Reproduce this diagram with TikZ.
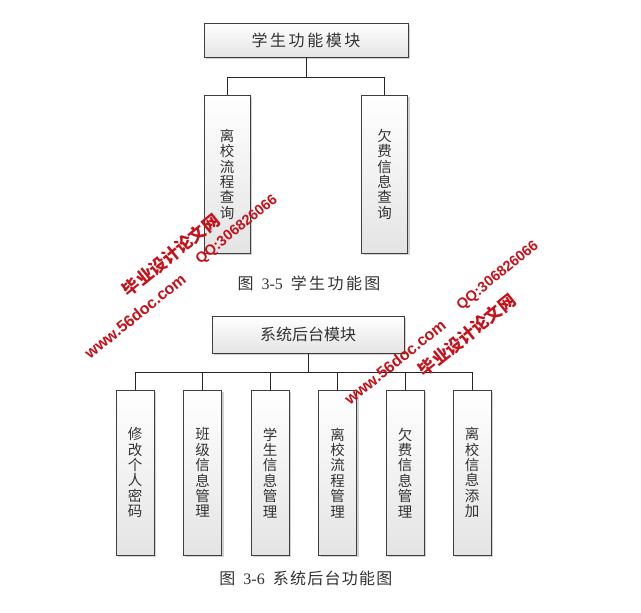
\documentclass[tikz,border=0pt]{standalone}
\usepackage{fontspec}
\setmainfont{Liberation Serif}
\newfontfamily\cjk{Noto Sans CJK SC}
\newfontfamily\wmsans{Liberation Sans}
\usepackage{tikz}
\usetikzlibrary{positioning,shadows}
\definecolor{fnline}  {HTML}{3F3F3F}
\definecolor{fnink}   {HTML}{333333}
\definecolor{fnfill}  {HTML}{E4E4E4}
\definecolor{fnshade} {HTML}{9A9A9A}
\definecolor{fnred}   {HTML}{C4121A}
\tikzset{
  fnbox/.style={draw=fnline, thin, top color=white, bottom color=fnfill,
                text=fnink, inner sep=0pt,
                drop shadow={shadow xshift=2pt, shadow yshift=-2pt,
                             fill=fnshade, opacity=0.45}},
  fnroot/.style={fnbox, font=\cjk\fontsize{16}{16}\selectfont},
  fnleaf/.style={fnbox, anchor=north, align=center,
                 font=\cjk\fontsize{14.5}{15.4}\selectfont},
  fnedge/.style={draw=black!85, thin},
  fncaption/.style={text=fnink, inner sep=0pt, font=\fontsize{16}{16}\selectfont},
  fnmark/.style={text=fnred, rotate=39, inner sep=0pt,
                 font=\wmsans\bfseries\fontsize{16}{16}\selectfont},
  fnmarkcjk/.style={fnmark, font=\cjk\bfseries\fontsize{17}{17}\selectfont},
}

\begin{document}
\begin{tikzpicture}[x=1pt,y=-1pt]
  \useasboundingbox[fill=white] (0,0) rectangle (641,613);

  % figure 3-5
  \node[fnroot, minimum width=204, minimum height=34] (stu) at (306,40)
       {\addfontfeature{LetterSpace=16}学生功能模块};
  \node[fnleaf, minimum width=46, minimum height=158] (stu1) at (227,95)
       {离\\校\\流\\程\\查\\询};
  \node[fnleaf, minimum width=46, minimum height=158] (stu2) at (384.5,95)
       {欠\\费\\信\\息\\查\\询};
  \foreach \c in {stu1,stu2}
    \draw[fnedge] (stu.south) -- ++(0,20) -| (\c.north);
  \node[fncaption] (cap1) at (309,283)
       {{\cjk 图}\ \ 3-5\ \ {\cjk\addfontfeature{LetterSpace=15}学生功能图}};

  % figure 3-6
  \node[fnroot, minimum width=192, minimum height=37] (adm) at (308,334.5)
       {系统后台模块};
  \foreach \i/\x/\txt in {1/135/{修\\改\\个\\人\\密\\码},
                          2/202.5/{班\\级\\信\\息\\管\\理},
                          3/270/{学\\生\\信\\息\\管\\理},
                          4/337.5/{离\\校\\流\\程\\管\\理},
                          5/405/{欠\\费\\信\\息\\管\\理},
                          6/472/{离\\校\\信\\息\\添\\加}} {
    \node[fnleaf, minimum width=38, minimum height=165] (adm\i) at (\x,390) {\txt};
    \draw[fnedge] (adm.south) -- ++(0,19) -| (adm\i.north);
  }
  \node[fncaption] (cap2) at (306,578)
       {{\cjk 图}\ \ 3-6\ \ {\cjk\addfontfeature{LetterSpace=8}系统后台功能图}};

  % watermarks
  \node[fnmark]    (wm1a) at (135,316) {www.56doc.com};
  \node[fnmarkcjk] (wm1b) at (171,255) {毕业设计论文网};
  \node[fnmark, font=\wmsans\bfseries\fontsize{14.5}{15}\selectfont] (wm1c) at (237,230) {QQ:306826066};
  \node[fnmark]    (wm2a) at (395,362) {www.56doc.com};
  \node[fnmarkcjk] (wm2b) at (467,335) {毕业设计论文网};
  \node[fnmark, font=\wmsans\bfseries\fontsize{14.5}{15}\selectfont] (wm2c) at (498,276) {QQ:306826066};
\end{tikzpicture}
\end{document}
